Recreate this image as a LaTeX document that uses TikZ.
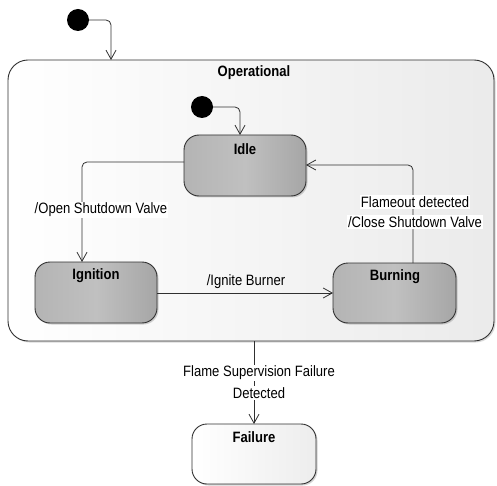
\documentclass[tikz,border=0pt]{standalone}
\usepackage{fontspec}
\setmainfont{Liberation Sans}[FakeStretch=0.87]
\usetikzlibrary{arrows.meta,shadows}
\definecolor{lineC}{HTML}{303030}
\definecolor{stL}{HTML}{B4B4B4}
\definecolor{stM}{HTML}{C0C0C0}
\definecolor{stR}{HTML}{A6A6A6}
\tikzset{
  state/.style={draw=lineC, line width=0.9pt, rounded corners=15pt,
    left color=stL, right color=stR, middle color=stM,
    drop shadow={shadow xshift=1.5pt, shadow yshift=-1.5pt, opacity=0.35}},
  ttl/.style={font=\fontsize{15}{17}\selectfont\bfseries, inner sep=0pt},
  lbl/.style={font=\fontsize{15}{17}\selectfont, inner sep=1pt, fill=white},
  trans/.style={draw=lineC, line width=0.8pt, rounded corners=5pt,
    -{Straight Barb[length=9pt,width=10pt,line width=0.8pt]}},
  initdot/.style={circle, fill=black, minimum size=22pt, inner sep=0pt}
}
\begin{document}
\begin{tikzpicture}[x=1pt,y=-1pt]
\useasboundingbox (0,0) rectangle (497,486);
% Operational composite state
\path[draw=lineC, line width=0.9pt, rounded corners=20pt, left color=white, right color=black!8,
  drop shadow={shadow xshift=1.5pt, shadow yshift=-1.5pt, opacity=0.3}]
  (8,60) rectangle (494,341);
\node[ttl] (optitle) at (254,73) {Operational};
\coordinate (optop) at (111,60);
\coordinate (opbot) at (254,341);
% states
\path[state] (184,135) rectangle (306,196);
\node[ttl] (idletitle) at (245,149) {Idle};
\path[state] (35,262) rectangle (157,323);
\node[ttl] (igntitle) at (96,276) {Ignition};
\path[state] (333,263) rectangle (456,323);
\node[ttl] (burntitle) at (395,277) {Burning};
\path[draw=lineC, line width=0.9pt, rounded corners=15pt, left color=white, right color=black!7,
  drop shadow={shadow xshift=1.5pt, shadow yshift=-1.5pt, opacity=0.35}]
  (192,424) rectangle (316,484);
\node[ttl] (failtitle) at (254,437) {Failure};
% anchor coordinates on states
\coordinate (idletop) at (240,135);
\coordinate (idleleft) at (184,162);
\coordinate (idleright) at (306,165);
\coordinate (igntop) at (82,262);
\coordinate (ignright) at (157,293);
\coordinate (burnleft) at (333,293);
\coordinate (burntop) at (413,263);
\coordinate (failtop) at (254,424);
% initial pseudostates
\node[initdot] (init1) at (78,20) {};
\node[initdot] (init2) at (202,107) {};
\draw[trans] (init1.east) -| (optop);
\draw[trans] (init2.east) -| (idletop);
% transitions
\draw[trans] (idleleft) -| (igntop);
\node[lbl] (l1) at (101,210) {/Open Shutdown Valve};
\draw[trans] (ignright) -- (burnleft);
\node[font=\fontsize{15}{17}\selectfont, inner sep=0pt] (l2) at (246,282) {/Ignite Burner};
\draw[trans] (burntop) |- (idleright);
\node[lbl] (l3a) at (415,202) {Flameout detected};
\node[lbl] (l3b) at (415,222) {/Close Shutdown Valve};
\draw[trans] (opbot) -- (failtop);
\node[lbl] (l4a) at (259,373) {Flame Supervision Failure};
\node[lbl] (l4b) at (259,393) {Detected};
\end{tikzpicture}
\end{document}
